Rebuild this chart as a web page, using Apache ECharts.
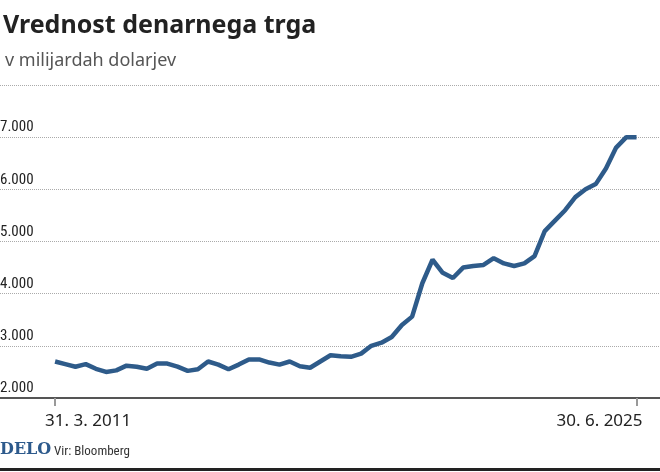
<!DOCTYPE html>
<html><head><meta charset="utf-8">
<script src="https://cdn.jsdelivr.net/npm/echarts@6/dist/echarts.min.js"></script>
<style>html,body{margin:0;padding:0;background:#fff}#c{width:660px;height:472px}</style>
</head><body><div id="c"></div>
<script>
const values = [2700,2650,2600,2650,2560,2500,2530,2620,2600,2560,
2660,2660,2600,2520,2550,2700,2640,2550,2640,2740,
2740,2680,2640,2700,2610,2580,2700,2820,2800,2790,
2850,3000,3060,3170,3400,3560,4200,4650,4400,4300,
4500,4530,4550,4680,4580,4530,4580,4720,5200,5400,
5600,5850,6000,6100,6400,6800,7000,7000];
const dateLabels = {0:'31. 3. 2011', 57:'30. 6. 2025'};
const narrow = '"Liberation Sans Narrow","Roboto Condensed","Noto Sans",sans-serif';
const chart = echarts.init(document.getElementById('c'));
chart.setOption({
  animation:false,
  title:[
    {text:'Vrednost denarnega trga',left:-2,top:8,textStyle:{fontFamily:'"Noto Sans",sans-serif',fontWeight:'bold',fontSize:25,color:'#222'}},
    {text:'v milijardah dolarjev',left:0,top:47,textStyle:{fontFamily:'"Noto Sans",sans-serif',fontWeight:'normal',fontSize:18,color:'#555'}}
  ],
  graphic:[
    {type:'text',left:0,top:442,style:{text:'DELO',font:'bold 16px "DejaVu Serif",serif',fill:'#2d5a8c'}},
    {type:'text',left:54,top:445,style:{text:'Vir: Bloomberg',font:'13px '+narrow,fill:'#333'}},
    {type:'rect',shape:{x:0,y:468,width:660,height:3},style:{fill:'#222'}}
  ],
  grid:{left:0,right:0,top:85,bottom:74,outerBoundsMode:'none',containLabel:false},
  xAxis:{type:'value',min:-5.4,max:59.3,
    axisLine:{show:true,lineStyle:{color:'#555',width:2}},
    splitLine:{show:false},
    axisTick:{show:true,customValues:[0,57],length:8,lineStyle:{color:'#999',width:2}},
    axisLabel:{customValues:[0,57],formatter:v=>dateLabels[Math.round(v)]||'',fontFamily:'"Noto Sans",sans-serif',fontSize:17,color:'#222',margin:15,
      alignMinLabel:'left',alignMaxLabel:'right',padding:[0,-6,0,-10]}
  },
  yAxis:{type:'value',min:2000,max:8000,interval:1000,
    axisLine:{show:false},axisTick:{show:false},
    splitLine:{lineStyle:{color:'#aaa',type:[1,1],width:1}},
    axisLabel:{inside:true,verticalAlign:'bottom',margin:0,padding:[0,0,2,0],fontFamily:narrow,fontSize:15,color:'#222',
      formatter:v=>v>=8000?'':String(v).replace(/\B(?=(\d{3})+(?!\d))/g,'.')}
  },
  series:[{type:'line',data:values.map((v,i)=>[i,v]),symbol:'none',lineStyle:{color:'#2e5b8a',width:4.5},z:5}]
});
</script></body></html>
